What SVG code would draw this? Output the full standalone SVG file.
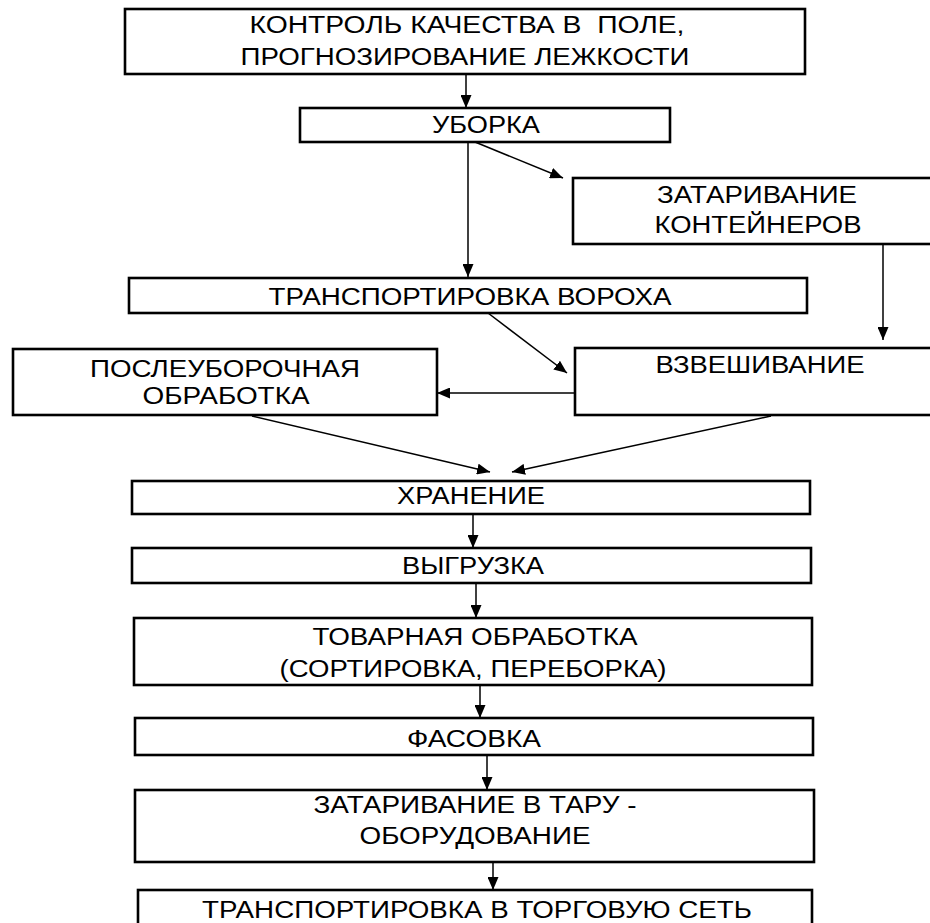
<svg xmlns="http://www.w3.org/2000/svg" width="930" height="923" viewBox="0 0 930 923">
<defs>
<style>
.box{fill:#fff;stroke:#000;stroke-width:2.6}
.t{font-family:"Liberation Sans",Arial,sans-serif;font-size:23px;fill:#000;text-anchor:middle}
.c{stroke:#000;stroke-width:1.5;fill:none;marker-end:url(#ah)}
</style>
<marker id="ah" markerUnits="userSpaceOnUse" markerWidth="14" markerHeight="11" refX="13" refY="5.5" orient="auto">
<path d="M0,0 L13,5.5 L0,11 z" fill="#000"/>
</marker>
</defs>
<rect width="930" height="923" fill="#fff"/>
<g id="connectors">
<line class="c" x1="466" y1="74" x2="466" y2="108"/>
<line class="c" x1="468" y1="142" x2="468" y2="277"/>
<line class="c" x1="475" y1="142" x2="563" y2="178"/>
<line class="c" x1="883" y1="244" x2="883" y2="340"/>
<line class="c" x1="488" y1="313" x2="567" y2="373"/>
<line class="c" x1="575" y1="393" x2="437" y2="393"/>
<line class="c" x1="252" y1="416" x2="490" y2="472"/>
<line class="c" x1="771" y1="416" x2="512" y2="472"/>
<line class="c" x1="473" y1="514" x2="473" y2="548"/>
<line class="c" x1="476" y1="583" x2="476" y2="618"/>
<line class="c" x1="480" y1="685" x2="480" y2="718"/>
<line class="c" x1="487" y1="755" x2="487" y2="790"/>
<line class="c" x1="493" y1="862" x2="493" y2="890"/>
</g>
<g id="n1"><rect class="box" x="125" y="9" width="680" height="65"/>
<text class="t" x="467" y="33" textLength="435" lengthAdjust="spacingAndGlyphs" xml:space="preserve">КОНТРОЛЬ КАЧЕСТВА В  ПОЛЕ,</text>
<text class="t" x="465" y="65" textLength="449" lengthAdjust="spacingAndGlyphs">ПРОГНОЗИРОВАНИЕ ЛЕЖКОСТИ</text></g>
<g id="n2"><rect class="box" x="300" y="108" width="370" height="34"/>
<text class="t" x="486" y="133" textLength="108" lengthAdjust="spacingAndGlyphs">УБОРКА</text></g>
<g id="n3"><rect class="box" x="573" y="178" width="362" height="66"/>
<text class="t" x="757" y="203" textLength="200" lengthAdjust="spacingAndGlyphs">ЗАТАРИВАНИЕ</text>
<text class="t" x="758" y="233" textLength="207" lengthAdjust="spacingAndGlyphs">КОНТЕЙНЕРОВ</text></g>
<g id="n4"><rect class="box" x="129" y="278" width="678" height="35"/>
<text class="t" x="470" y="305" textLength="403" lengthAdjust="spacingAndGlyphs">ТРАНСПОРТИРОВКА ВОРОХА</text></g>
<g id="n5"><rect class="box" x="13" y="349" width="424" height="66"/>
<text class="t" x="225" y="377" textLength="270" lengthAdjust="spacingAndGlyphs">ПОСЛЕУБОРОЧНАЯ</text>
<text class="t" x="226" y="404" textLength="167" lengthAdjust="spacingAndGlyphs">ОБРАБОТКА</text></g>
<g id="n6"><rect class="box" x="575" y="348" width="360" height="67"/>
<text class="t" x="760" y="373" textLength="209" lengthAdjust="spacingAndGlyphs">ВЗВЕШИВАНИЕ</text></g>
<g id="n7"><rect class="box" x="132" y="481" width="678" height="33"/>
<text class="t" x="471" y="504" textLength="148" lengthAdjust="spacingAndGlyphs">ХРАНЕНИЕ</text></g>
<g id="n8"><rect class="box" x="132" y="548" width="679" height="35"/>
<text class="t" x="473" y="574" textLength="142" lengthAdjust="spacingAndGlyphs">ВЫГРУЗКА</text></g>
<g id="n9"><rect class="box" x="134" y="618" width="678" height="67"/>
<text class="t" x="475" y="645" textLength="325" lengthAdjust="spacingAndGlyphs">ТОВАРНАЯ ОБРАБОТКА</text>
<text class="t" x="473" y="677" textLength="387" lengthAdjust="spacingAndGlyphs">(СОРТИРОВКА, ПЕРЕБОРКА)</text></g>
<g id="n10"><rect class="box" x="135" y="718" width="678" height="37"/>
<text class="t" x="474" y="747" textLength="134" lengthAdjust="spacingAndGlyphs">ФАСОВКА</text></g>
<g id="n11"><rect class="box" x="135" y="790" width="679" height="72"/>
<text class="t" x="475" y="813" textLength="323" lengthAdjust="spacingAndGlyphs">ЗАТАРИВАНИЕ В ТАРУ -</text>
<text class="t" x="475" y="844" textLength="231" lengthAdjust="spacingAndGlyphs">ОБОРУДОВАНИЕ</text></g>
<g id="n12"><rect class="box" x="138" y="890" width="674" height="45"/>
<text class="t" x="477" y="918" textLength="550" lengthAdjust="spacingAndGlyphs">ТРАНСПОРТИРОВКА В ТОРГОВУЮ СЕТЬ</text></g>
</svg>
